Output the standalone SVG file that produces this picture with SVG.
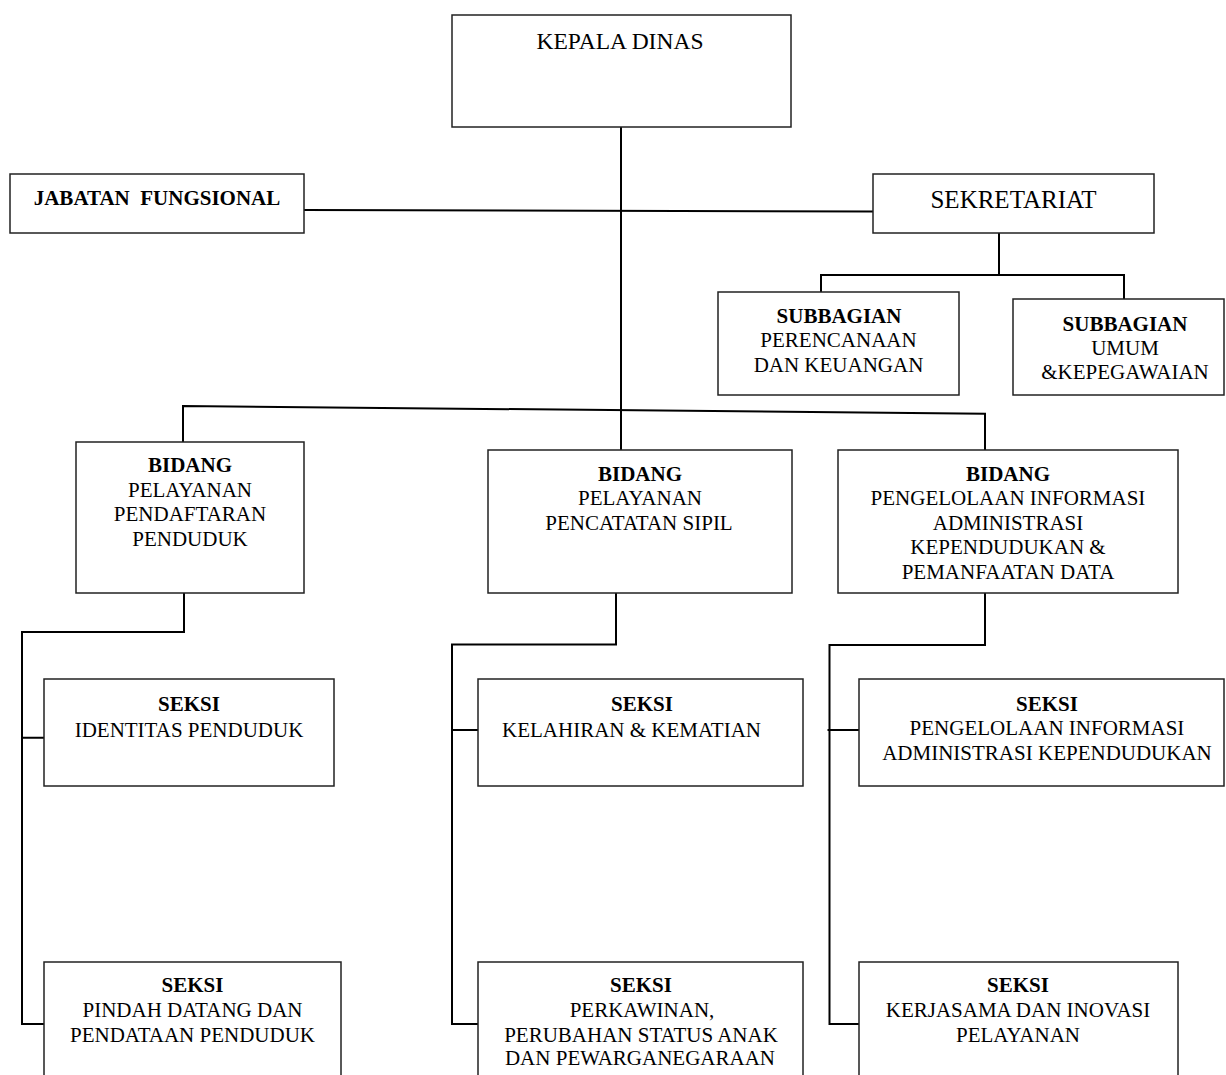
<svg xmlns="http://www.w3.org/2000/svg" width="1226" height="1075" viewBox="0 0 1226 1075">
<style>
  .box { fill: #ffffff; stroke: #222222; stroke-width: 1.5; }
  .conn { fill: none; stroke: #000000; stroke-width: 2; }
  text { font-family: "Liberation Serif", "Times New Roman", serif; font-size: 21px; fill: #000000; text-anchor: middle; }
  .b { font-weight: bold; }
  .big { font-size: 23.5px; }
  .sek { font-size: 25px; }
</style>
<rect x="0" y="0" width="1226" height="1075" fill="#ffffff"/>
<g id="connectors">
  <path class="conn" d="M621,127 V450"/>
  <path class="conn" d="M304,210 L873,211.5"/>
  <path class="conn" d="M999,233 V275 M821,292 V275 H1124 V299"/>
  <path class="conn" d="M183,442 V406 L985,413.7 V450"/>
  <path class="conn" d="M184,593 V632 H22 V1024 H44 M22,737.7 H44"/>
  <path class="conn" d="M616,591 V644.5 H452 V1024 H478 M452,730 H478"/>
  <path class="conn" d="M985,593 V645 H829.5 V1024 H859 M827.5,730 H859"/>
</g>
<g id="kepala-dinas">
  <rect class="box" x="452" y="15" width="339" height="112"/>
  <text class="big" x="620" y="49">KEPALA DINAS</text>
</g>
<g id="jabatan-fungsional">
  <rect class="box" x="10" y="174" width="294" height="59"/>
  <text class="b" x="157" y="205" xml:space="preserve">JABATAN  FUNGSIONAL</text>
</g>
<g id="sekretariat">
  <rect class="box" x="873" y="174" width="281" height="59"/>
  <text class="sek" x="1013.5" y="208">SEKRETARIAT</text>
</g>
<g id="subbagian-perencanaan">
  <rect class="box" x="718" y="292" width="241" height="103"/>
  <text class="b" x="839" y="322.7">SUBBAGIAN</text>
  <text x="838.5" y="347.3">PERENCANAAN</text>
  <text x="838.5" y="372.3">DAN KEUANGAN</text>
</g>
<g id="subbagian-umum">
  <rect class="box" x="1013" y="299" width="211" height="96"/>
  <text class="b" x="1125" y="330.7">SUBBAGIAN</text>
  <text x="1125" y="355">UMUM</text>
  <text x="1125" y="379">&amp;KEPEGAWAIAN</text>
</g>
<g id="bidang-pendaftaran">
  <rect class="box" x="76" y="442" width="228" height="151"/>
  <text class="b" x="190" y="471.7">BIDANG</text>
  <text x="190" y="496.7">PELAYANAN</text>
  <text x="190" y="520.7">PENDAFTARAN</text>
  <text x="190" y="545.7">PENDUDUK</text>
</g>
<g id="bidang-pencatatan">
  <rect class="box" x="488" y="450" width="304" height="143"/>
  <text class="b" x="640" y="480.7">BIDANG</text>
  <text x="640" y="505">PELAYANAN</text>
  <text x="639" y="530">PENCATATAN SIPIL</text>
</g>
<g id="bidang-informasi">
  <rect class="box" x="838" y="450" width="340" height="143"/>
  <text class="b" x="1008" y="480.7">BIDANG</text>
  <text x="1008" y="505">PENGELOLAAN INFORMASI</text>
  <text x="1008" y="530">ADMINISTRASI</text>
  <text x="1008" y="554">KEPENDUDUKAN &amp;</text>
  <text x="1008" y="579">PEMANFAATAN DATA</text>
</g>
<g id="seksi-identitas">
  <rect class="box" x="44" y="679" width="290" height="107"/>
  <text class="b" x="189" y="710.7">SEKSI</text>
  <text x="189" y="736.7">IDENTITAS PENDUDUK</text>
</g>
<g id="seksi-kelahiran">
  <rect class="box" x="478" y="679" width="325" height="107"/>
  <text class="b" x="642" y="710.7">SEKSI</text>
  <text x="631.5" y="736.7">KELAHIRAN &amp; KEMATIAN</text>
</g>
<g id="seksi-pengelolaan">
  <rect class="box" x="859" y="679" width="365" height="107"/>
  <text class="b" x="1047" y="710.7">SEKSI</text>
  <text x="1047" y="735">PENGELOLAAN INFORMASI</text>
  <text x="1047" y="760">ADMINISTRASI KEPENDUDUKAN</text>
</g>
<g id="seksi-pindah">
  <rect class="box" x="44" y="962" width="297" height="130"/>
  <text class="b" x="192.5" y="992.3">SEKSI</text>
  <text x="192.5" y="1016.7">PINDAH DATANG DAN</text>
  <text x="192.5" y="1042.3">PENDATAAN PENDUDUK</text>
</g>
<g id="seksi-perkawinan">
  <rect class="box" x="478" y="962" width="325" height="130"/>
  <text class="b" x="641" y="992.3">SEKSI</text>
  <text x="642" y="1016.7">PERKAWINAN,</text>
  <text x="641" y="1041.7">PERUBAHAN STATUS ANAK</text>
  <text x="640" y="1065">DAN PEWARGANEGARAAN</text>
</g>
<g id="seksi-kerjasama">
  <rect class="box" x="859" y="962" width="319" height="130"/>
  <text class="b" x="1018" y="992.3">SEKSI</text>
  <text x="1018" y="1016.7">KERJASAMA DAN INOVASI</text>
  <text x="1018" y="1041.7">PELAYANAN</text>
</g>
</svg>
